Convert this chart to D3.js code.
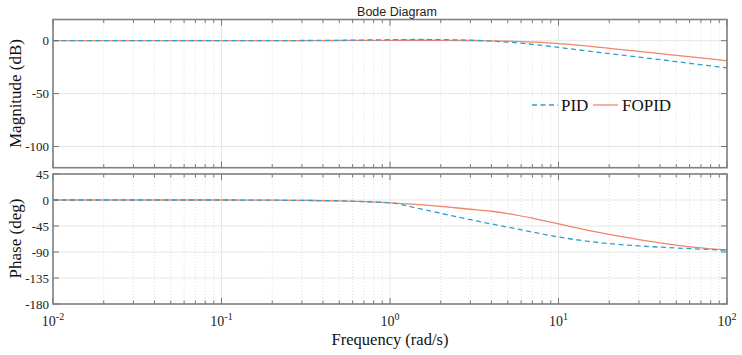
<!DOCTYPE html>
<html><head><meta charset="utf-8">
<script src="https://cdn.jsdelivr.net/npm/d3@7"></script>
<style>body{margin:0;background:#fff}svg{display:block}</style>
</head><body>
<script>
const freq = [0.01,0.1,0.2,0.3,0.5,0.7,1,1.5,2,3,4,5,7,10,15,20,30,50,70,100];
const pidMag = [0,0,0.05,0.15,0.35,0.6,0.9,1.1,1.0,0.4,-0.4,-1.4,-3.5,-6.4,-9.8,-12.2,-15.5,-19.8,-22.7,-25.6];
const fopidMag = [0,0,0,0.05,0.15,0.25,0.35,0.4,0.35,0.15,-0.1,-0.5,-1.4,-2.7,-5.1,-7.3,-10.2,-13.8,-16.3,-19];
const pidPhase = [0,0,-0.3,-0.7,-1.5,-2.8,-5,-15,-23,-34,-41.5,-47,-55.5,-64,-71.5,-75.5,-79.5,-83,-85,-87];
const fopidPhase = [0,0,-0.3,-0.7,-1.5,-2.8,-5,-8,-11,-16,-19.5,-23.5,-31.5,-41.5,-52.5,-59.5,-68.5,-78,-83,-86.5];
const magTicks = [0,-50,-100];
const phaseTicks = [45,0,-45,-90,-135,-180];
const xDecades = [-2,-1,0,1,2];

const W=742,H=355;
const svg=d3.select("body").append("svg").attr("width",W).attr("height",H);
const x=d3.scaleLog().domain([0.01,100]).range([53,727]);
const yMag=d3.scaleLinear().domain([-120,20]).range([167.7,19.5]);
const yPh=d3.scaleLinear().domain([-180,45]).range([304,174]);

const minors=[];
for(let d=-2;d<2;d++){for(let k=2;k<=9;k++){minors.push(k*Math.pow(10,d));}}
const majors=xDecades.map(d=>Math.pow(10,d));

function panel(y,ticks,pid,fopid){
  const [y0,y1]=y.range();
  const g=svg.append("g");
  g.selectAll(null).data(minors).join("line")
   .attr("x1",d=>x(d)).attr("x2",d=>x(d)).attr("y1",y1).attr("y2",y0)
   .attr("stroke","#d8d8d8").attr("stroke-width",0.8).attr("stroke-dasharray","1,2");
  g.selectAll(null).data(majors).join("line")
   .attr("x1",d=>x(d)).attr("x2",d=>x(d)).attr("y1",y1).attr("y2",y0)
   .attr("stroke","#e6e6e6").attr("stroke-width",1);
  g.selectAll(null).data(ticks).join("line")
   .attr("x1",53).attr("x2",727).attr("y1",d=>y(d)).attr("y2",d=>y(d))
   .attr("stroke","#e6e6e6").attr("stroke-width",1);
  const lp=d3.line().x((d,i)=>x(freq[i])).y(d=>y(d)).curve(d3.curveMonotoneX);
  g.append("path").attr("d",lp(fopid)).attr("fill","none").attr("stroke","#f0866a").attr("stroke-width",1.3);
  g.append("path").attr("d",lp(pid)).attr("fill","none").attr("stroke","#2f9fd0").attr("stroke-width",1.3).attr("stroke-dasharray","5,3.5");
  const tc="#666";
  [y0,y1].forEach((yy,j)=>{
    const s=j===0?-1:1;
    g.selectAll(null).data(minors).join("line")
     .attr("x1",d=>x(d)).attr("x2",d=>x(d)).attr("y1",yy).attr("y2",yy+s*3.5)
     .attr("stroke",tc).attr("stroke-width",0.9);
    g.selectAll(null).data(majors).join("line")
     .attr("x1",d=>x(d)).attr("x2",d=>x(d)).attr("y1",yy).attr("y2",yy+s*6)
     .attr("stroke",tc).attr("stroke-width",0.9);
  });
  [53,727].forEach((xx,j)=>{
    const s=j===0?1:-1;
    g.selectAll(null).data(ticks).join("line")
     .attr("x1",xx).attr("x2",xx+s*6).attr("y1",d=>y(d)).attr("y2",d=>y(d))
     .attr("stroke",tc).attr("stroke-width",0.9);
  });
  g.append("rect").attr("x",53).attr("y",y1).attr("width",674).attr("height",y0-y1)
   .attr("fill","none").attr("stroke","#808080").attr("stroke-width",1.6);
  g.selectAll(null).data(ticks).join("text")
   .attr("x",49).attr("y",d=>y(d)).attr("dy","0.35em").attr("text-anchor","end")
   .attr("font-family","Liberation Serif").attr("font-size",13).attr("fill","#222").text(d=>d);
}
panel(yMag,magTicks,pidMag,fopidMag);
panel(yPh,phaseTicks,pidPhase,fopidPhase);

const xl=svg.selectAll(null).data(xDecades).join("text")
  .attr("x",d=>x(Math.pow(10,d))).attr("y",326).attr("text-anchor","middle")
  .attr("font-family","Liberation Serif").attr("font-size",14).attr("fill","#222");
xl.append("tspan").text("10");
xl.append("tspan").attr("dy",-6).attr("font-size",10).text(d=>d);

svg.append("text").attr("x",390).attr("y",345).attr("text-anchor","middle")
  .attr("font-family","Liberation Serif").attr("font-size",16.5).attr("fill","#111").text("Frequency (rad/s)");
svg.append("text").attr("transform","translate(21,93.5) rotate(-90)").attr("text-anchor","middle")
  .attr("font-family","Liberation Serif").attr("font-size",17).attr("fill","#111").text("Magnitude (dB)");
svg.append("text").attr("transform","translate(21,238.5) rotate(-90)").attr("text-anchor","middle")
  .attr("font-family","Liberation Serif").attr("font-size",17).attr("fill","#111").text("Phase (deg)");
svg.append("text").attr("x",397).attr("y",15.5).attr("text-anchor","middle")
  .attr("font-family","Liberation Sans").attr("font-size",12.5).attr("fill","#222").text("Bode Diagram");

const lg=svg.append("g");
lg.append("line").attr("x1",532).attr("x2",558).attr("y1",105).attr("y2",105)
  .attr("stroke","#2f9fd0").attr("stroke-width",1.3).attr("stroke-dasharray","5,3.5");
lg.append("text").attr("x",561).attr("y",110.5).attr("font-family","Liberation Serif").attr("font-size",17).attr("fill","#111").text("PID");
lg.append("line").attr("x1",593).attr("x2",618).attr("y1",105).attr("y2",105)
  .attr("stroke","#f0866a").attr("stroke-width",1.3);
lg.append("text").attr("x",622).attr("y",110.5).attr("font-family","Liberation Serif").attr("font-size",17).attr("fill","#111").text("FOPID");
</script>
</body></html>
